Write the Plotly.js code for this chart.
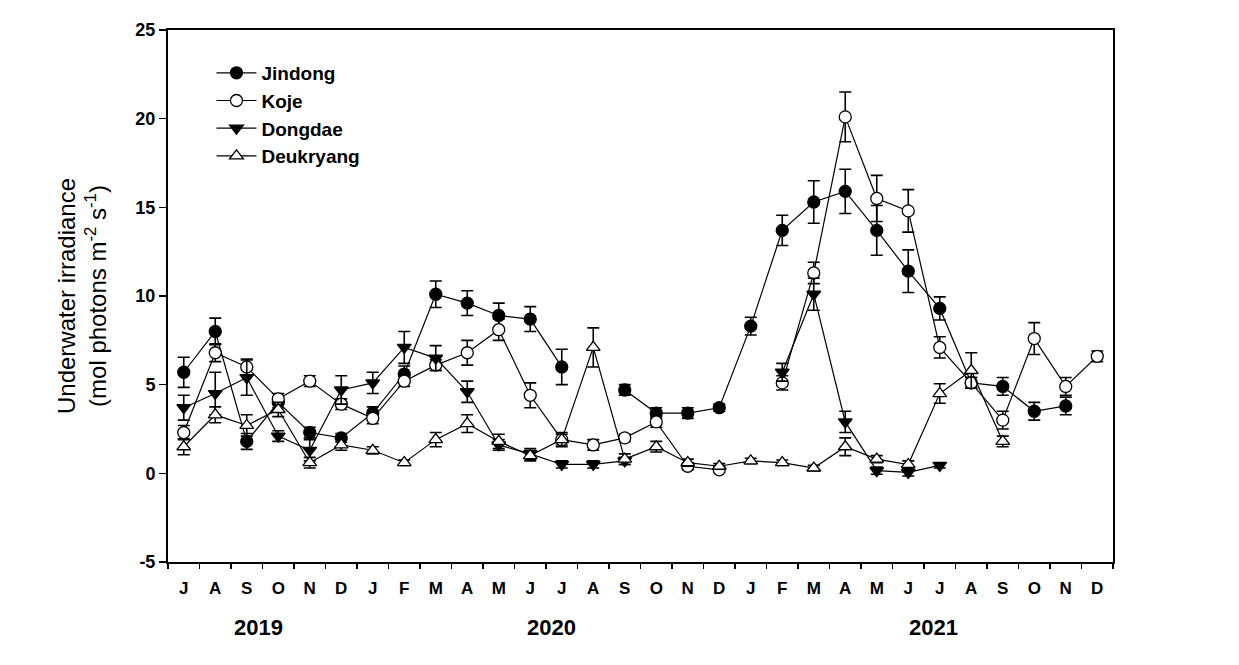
<!DOCTYPE html>
<html>
<head>
<meta charset="utf-8">
<script src="https://cdn.plot.ly/plotly-3.0.1.min.js"></script>
<style>html,body{margin:0;padding:0;background:#fff;}#chart{width:1239px;height:665px;}</style>
</head>
<body>
<div id="chart"></div>
<script>
// Months: Jul 2019 .. Dec 2021
const monthLabels = ["J","A","S","O","N","D","J","F","M","A","M","J","J","A","S","O","N","D","J","F","M","A","M","J","J","A","S","O","N","D"];
const yearLabels = ["2019","2020","2021"];
const yTickVals = [-5, 0, 5, 10, 15, 20, 25];
const yTickText = ["-5", "0", "5", "10", "15", "20", "25"];

const jindong    = [5.7,8.0,1.8,4.0,2.3,2.0,3.4,5.6,10.1,9.6,8.9,8.7,6.0,null,4.7,3.4,3.4,3.7,8.3,13.7,15.3,15.9,13.7,11.4,9.3,5.1,4.9,3.5,3.8,null];
const jindongErr = [0.85,0.75,0.45,0.3,0.3,0.25,0.35,0.45,0.75,0.7,0.7,0.7,1.0,null,0.3,0.3,0.3,0.2,0.5,0.85,1.2,1.25,1.4,1.2,0.65,0.3,0.5,0.5,0.5,null];

const koje    = [2.3,6.8,6.0,4.2,5.2,3.9,3.1,5.2,6.1,6.8,8.1,4.4,1.9,1.6,2.0,2.9,0.4,0.2,null,5.1,11.3,20.1,15.5,14.8,7.1,5.1,3.0,7.6,4.9,6.6];
const kojeErr = [0.4,0.5,0.45,0.3,0.3,0.3,0.3,0.3,0.3,0.7,0.6,0.7,0.3,0.3,0.2,0.3,0.2,0.15,null,0.4,0.6,1.4,1.3,1.2,0.6,0.3,0.5,0.9,0.5,0.3];

const dongdae    = [3.7,4.5,5.4,2.1,1.3,4.7,5.1,7.1,6.5,4.6,1.6,1.1,0.5,0.5,0.7,null,null,null,null,5.7,10.1,2.9,0.15,0.05,0.45,null,null,null,null,null];
const dongdaeErr = [0.7,1.2,1.0,0.3,0.6,0.8,0.6,0.9,0.7,0.6,0.3,0.3,0.2,0.2,0.2,null,null,null,null,0.5,0.9,0.6,0.2,0.2,0.15,null,null,null,null,null];

const deukryang    = [1.5,3.3,2.7,3.6,0.6,1.6,1.3,0.6,1.9,2.8,1.8,1.0,1.9,7.1,0.8,1.5,0.6,0.4,0.7,0.6,0.3,1.5,0.8,0.5,4.5,5.8,1.8,null,null,null];
const deukryangErr = [0.45,0.45,0.6,0.4,0.3,0.3,0.2,0.15,0.4,0.5,0.4,0.3,0.4,1.1,0.3,0.3,0.2,0.15,0.15,0.15,0.15,0.5,0.2,0.2,0.55,1.0,0.3,null,null,null];

const xIdx = monthLabels.map((_, i) => i);

function series(name, y, err, symbol, fill) {
  return {
    type: 'scatter', mode: 'lines+markers', name: name,
    x: xIdx, y: y,
    line: {color: '#000', width: 1.2},
    marker: {symbol: symbol, size: 12, color: fill, line: {color: '#000', width: 1.3}},
    error_y: {type: 'data', array: err, visible: true, color: '#000', thickness: 1.6, width: 6},
    cliponaxis: false
  };
}

const traces = [
  series('Jindong', jindong, jindongErr, 'circle', '#000'),
  series('Koje', koje, kojeErr, 'circle', '#fff'),
  series('Dongdae', dongdae, dongdaeErr, 'triangle-down', '#000'),
  series('Deukryang', deukryang, deukryangErr, 'triangle-up', '#fff')
];

const FONT = 'Arial, "Liberation Sans", sans-serif';
const layout = {
  width: 1239, height: 665,
  margin: {l: 168, r: 126, t: 30, b: 103},
  paper_bgcolor: '#fff', plot_bgcolor: '#fff',
  showlegend: true,
  legend: {
    x: 0.046, y: 0.955, xanchor: 'left', yanchor: 'top',
    bgcolor: 'rgba(0,0,0,0)', borderwidth: 0,
    font: {family: FONT, size: 19, color: '#000', weight: 'bold'},
    itemwidth: 40
  },
  xaxis: {
    range: [-0.5, 29.5], tickmode: 'array', tickvals: xIdx, ticktext: monthLabels,
    ticks: 'outside', ticklen: 10, tickcolor: 'rgba(0,0,0,0)',
    minor: {tickmode: 'linear', tick0: -0.5, dtick: 1, ticks: 'outside', ticklen: 5, tickwidth: 1.6, tickcolor: '#000', showgrid: false},
    showline: true, linecolor: '#000', linewidth: 2, mirror: true,
    showgrid: false, zeroline: false,
    tickfont: {family: FONT, size: 17, color: '#000', weight: 'bold'}
  },
  yaxis: {
    range: [-5, 25], tickmode: 'array', tickvals: yTickVals, ticktext: yTickText,
    ticks: 'outside', ticklen: 7, tickwidth: 1.6, tickcolor: '#000',
    showline: true, linecolor: '#000', linewidth: 2, mirror: true,
    showgrid: false, zeroline: false,
    tickfont: {family: FONT, size: 18, color: '#000', weight: 'bold'},
    title: {text: 'Underwater irradiance<br>(mol photons m<sup>-2</sup> s<sup>-1</sup>)', standoff: 22,
            font: {family: FONT, size: 24, color: '#000'}}
  },
  annotations: [
    {text: yearLabels[0], x: 2.36, y: -0.124},
    {text: yearLabels[1], x: 11.69, y: -0.124},
    {text: yearLabels[2], x: 23.79, y: -0.124}
  ].map(a => Object.assign(a, {xref: 'x', yref: 'paper', showarrow: false, xanchor: 'center', yanchor: 'middle',
                               font: {family: FONT, size: 22, color: '#000', weight: 'bold'}}))
};

Plotly.newPlot('chart', traces, layout, {displayModeBar: false, staticPlot: true});
</script>
</body>
</html>
